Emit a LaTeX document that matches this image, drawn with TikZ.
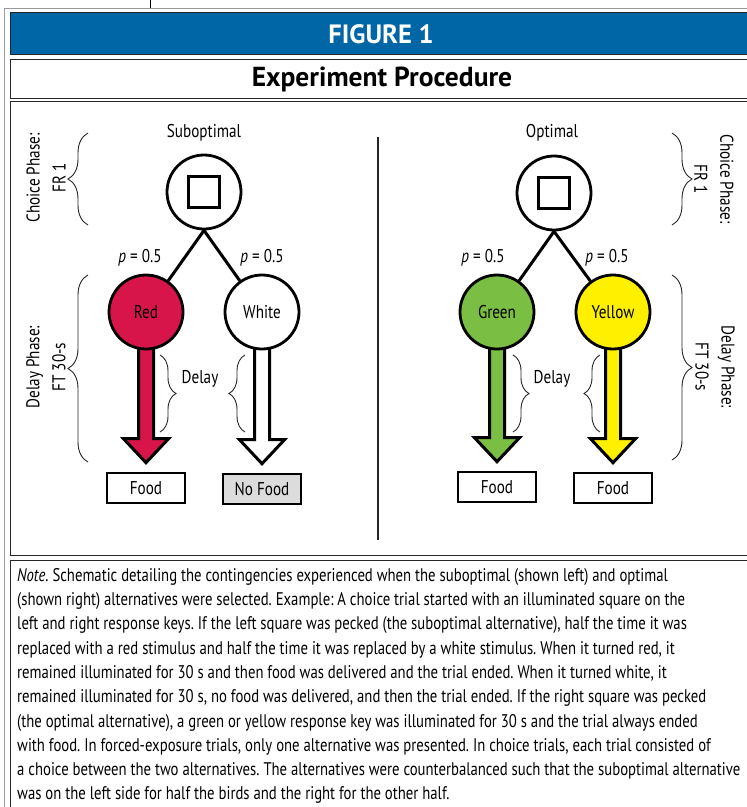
\documentclass[tikz,border=0pt]{standalone}
\usepackage{fontspec}
\setmainfont{PT Sans}[FakeStretch=0.82]
\newfontfamily\titlefont{PT Sans}
\newfontfamily\notefont{PT Sans}[FakeStretch=0.805]
\usetikzlibrary{calc,decorations.pathreplacing}

\definecolor{figblue}{RGB}{0,102,166}
\definecolor{keyred}{RGB}{215,21,75}
\definecolor{keygreen}{RGB}{122,190,68}
\definecolor{keyyellow}{RGB}{255,240,0}
\definecolor{nofoodgray}{RGB}{220,220,220}

\tikzset{
  keycircle/.style={circle, draw, line width=2.8pt, minimum size=74pt, inner sep=0pt,
    font=\fontsize{18.5}{22}\selectfont},
  keysquare/.style={rectangle, draw, line width=2.6pt, minimum size=31pt, inner sep=0pt},
  foodbox/.style={rectangle, draw, line width=2.6pt, minimum width=78pt, minimum height=30pt,
    inner sep=0pt, font=\fontsize{18.5}{22}\selectfont},
  branch/.style={line width=3pt},
  delayarrow/.style={line width=3pt, miter limit=20},
  toplabel/.style={font=\fontsize{18.5}{22}\selectfont},
  plabel/.style={font=\fontsize{18.5}{22}\selectfont},
  phaselabel/.style={align=center, font=\fontsize{18.5}{26}\selectfont},
  phasebrace/.style={decorate, decoration={brace, amplitude=20pt}, line width=0.9pt, black!85},
  delaybrace/.style={decorate, decoration={brace, amplitude=16pt}, line width=0.9pt, black!85},
  rowbox/.style={draw=black!85, line width=1pt},
  notetext/.style={align=left, inner sep=0pt, font=\notefont\fontsize{18.3}{24.3}\selectfont\frenchspacing},
}

% block arrow from a key down to its outcome box
\newcommand{\keyarrow}[3]{%
  \draw[delayarrow, fill=#3] let \p1=(#1.center), \p2=(#2.north) in
    (\x1-7.5pt,\y1) -- (\x1-7.5pt,\y2+33pt) -- (\x1-22.5pt,\y2+33pt) -- (\x1,\y2+9pt)
    -- (\x1+22.5pt,\y2+33pt) -- (\x1+7.5pt,\y2+33pt) -- (\x1+7.5pt,\y1) -- cycle;}

\begin{document}
\begin{tikzpicture}[x=1pt,y=-1pt]

\useasboundingbox (0,0) rectangle (747,807);
\clip (0,0) rectangle (747,807);

% frame
\draw[black!40, line width=1.2pt] (4.5,830) -- (4.5,8.5) -- (770,8.5);
\draw[black] (150,0) -- (150,8);
\draw[rowbox, fill=figblue] (10,12) rectangle (770,54);
\draw[rowbox] (10,59) rectangle (770,98);
\draw[rowbox] (10,101) rectangle (770,555);
\draw[rowbox] (10,560) rectangle (770,830);

\node[text=white, font=\titlefont\fontsize{26.5}{30}\bfseries] (figtitle) at (381,34) {FIGURE 1};
\node[font=\titlefont\fontsize{27.5}{30}\bfseries] (proctitle) at (382,79) {Experiment Procedure};

\draw[black!85, line width=1.5pt] (378,137) -- (378,540);

% suboptimal side
\node[toplabel] (sublabel) at (204,133) {Suboptimal};
\node[keycircle] (subkey) at (204,192) {};
\node[keysquare] (subsq) at (subkey) {};
\node[foodbox] (redfood) at (146,488) {Food};
\node[foodbox, fill=nofoodgray] (whitefood) at (262,489) {No Food};
\coordinate (redtop) at (146,312);
\coordinate (whitetop) at (262,312);
\keyarrow{redtop}{redfood}{keyred}
\keyarrow{whitetop}{whitefood}{white}
\node[keycircle, fill=keyred] (red) at (redtop) {Red};
\node[keycircle, fill=white] (white) at (whitetop) {White};
\draw[branch] (subkey.south) -- (red);
\draw[branch] (subkey.south) -- (white);
\node[plabel] (pred) at (140,258) {\textit{p} = 0.5};
\node[plabel] (pwhite) at (262,258) {\textit{p} = 0.5};
\draw[delaybrace] (160,355) -- (160,432);
\draw[delaybrace] (245,432) -- (245,355);
\node[toplabel] (subdelay) at (200,379) {Delay};

% phases, left
\draw[phasebrace] (88,225) -- (88,133);
\node[phaselabel, rotate=90] (choiceleft) at (46,178) {Choice Phase:\\FR 1};
\draw[phasebrace] (88,462) -- (88,275);
\node[phaselabel, rotate=90] (delayleft) at (46,367) {Delay Phase:\\FT 30-s};

% optimal side
\node[toplabel] (optlabel) at (552,133) {Optimal};
\node[keycircle] (optkey) at (554,193) {};
\node[keysquare] (optsq) at (optkey) {};
\node[foodbox] (greenfood) at (497,487) {Food};
\node[foodbox] (yellowfood) at (613,488) {Food};
\coordinate (greentop) at (497,312);
\coordinate (yellowtop) at (613,312);
\keyarrow{greentop}{greenfood}{keygreen}
\keyarrow{yellowtop}{yellowfood}{keyyellow}
\node[keycircle, fill=keygreen] (green) at (greentop) {Green};
\node[keycircle, fill=keyyellow] (yellow) at (yellowtop) {Yellow};
\draw[branch] (optkey.south) -- (green);
\draw[branch] (optkey.south) -- (yellow);
\node[plabel] (pgreen) at (483,258) {\textit{p} = 0.5};
\node[plabel] (pyellow) at (607,258) {\textit{p} = 0.5};
\draw[delaybrace] (513,355) -- (513,432);
\draw[delaybrace] (600,432) -- (600,355);
\node[toplabel] (optdelay) at (552,379) {Delay};

% phases, right
\draw[phasebrace] (672,133) -- (672,225);
\node[phaselabel, rotate=-90] (choiceright) at (714,179) {Choice Phase:\\FR 1};
\draw[phasebrace] (672,275) -- (672,460);
\node[phaselabel, rotate=-90] (delayright) at (715,367) {Delay Phase:\\FT 30-s};

% note
\node[notetext, anchor=north west] (note) at (17,568) {%
\textit{Note}. Schematic detailing the contingencies experienced when the suboptimal (shown left) and optimal\\
(shown right) alternatives were selected. Example: A choice trial started with an illuminated square on the\\
left and right response keys. If the left square was pecked (the suboptimal alternative), half the time it was\\
replaced with a red stimulus and half the time it was replaced by a white stimulus. When it turned red, it\\
remained illuminated for 30 s and then food was delivered and the trial ended. When it turned white, it\\
remained illuminated for 30 s, no food was delivered, and then the trial ended. If the right square was pecked\\
(the optimal alternative), a green or yellow response key was illuminated for 30 s and the trial always ended\\
with food. In forced-exposure trials, only one alternative was presented. In choice trials, each trial consisted of\\
a choice between the two alternatives. The alternatives were counterbalanced such that the suboptimal alternative\\
was on the left side for half the birds and the right for the other half.};

\end{tikzpicture}
\end{document}
